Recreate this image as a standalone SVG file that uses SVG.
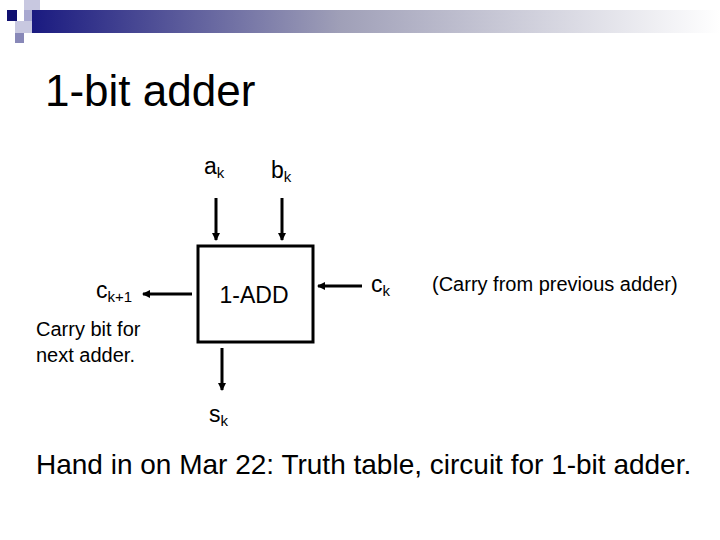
<svg xmlns="http://www.w3.org/2000/svg" width="720" height="540" viewBox="0 0 720 540">
<defs>
<linearGradient id="g" x1="0" x2="1"><stop offset="0" stop-color="#1a1a80"/><stop offset="0.45" stop-color="#a0a0b8"/><stop offset="1" stop-color="#ffffff"/></linearGradient>
<marker id="ar" markerWidth="8" markerHeight="8" refX="7" refY="4" orient="auto" markerUnits="userSpaceOnUse"><path d="M0,0 L8,4 L0,8 Z" fill="#000"/></marker>
<style>text{font-family:"Liberation Sans",Arial,sans-serif;fill:#000}.l{font-size:23px}.s{font-size:15px}line{stroke:#000;stroke-width:3;marker-end:url(#ar)}</style>
</defs>
<rect x="0" y="0" width="720" height="540" fill="#fff"/>
<g id="decor">
<rect x="32" y="10" width="688" height="23" fill="url(#g)"/>
<rect x="24" y="0" width="16" height="10" fill="#c8c8e0"/>
<rect x="7" y="10" width="10" height="11" fill="#101070"/>
<rect x="24" y="10" width="8" height="11" fill="#a8a8d0"/>
<rect x="15" y="21" width="17" height="12" fill="#c8c8e0"/>
<rect x="15" y="33" width="9" height="10" fill="#8888b8"/>
</g>
<text x="45" y="106" font-size="44">1-bit adder</text>
<g id="adder"><rect x="198" y="246" width="115" height="96" fill="#fff" stroke="#000" stroke-width="3"/><text class="l" x="254" y="303" text-anchor="middle">1-ADD</text></g>
<g id="connectors">
<line x1="216" y1="198" x2="216" y2="240"/>
<line x1="282" y1="198" x2="282" y2="240"/>
<line x1="362" y1="286" x2="318" y2="286"/>
<line x1="192" y1="294" x2="143" y2="294"/>
<line x1="222" y1="348" x2="222" y2="390"/>
</g>
<g id="labels">
<text class="l" x="204" y="174">a<tspan class="s" dy="4">k</tspan></text>
<text class="l" x="271" y="178">b<tspan class="s" dy="4">k</tspan></text>
<text class="l" x="371" y="292">c<tspan class="s" dy="4">k</tspan></text>
<text class="l" x="96" y="298">c<tspan class="s" dy="4">k+1</tspan></text>
<text class="l" x="209" y="422">s<tspan class="s" dy="4">k</tspan></text>
<text x="432" y="291" font-size="20">(Carry from previous adder)</text>
<text x="36" y="336" font-size="20">Carry bit for</text>
<text x="36" y="362" font-size="20">next adder.</text>
</g>
<text x="36" y="474" font-size="28">Hand in on Mar 22: Truth table, circuit for 1-bit adder.</text>
</svg>
